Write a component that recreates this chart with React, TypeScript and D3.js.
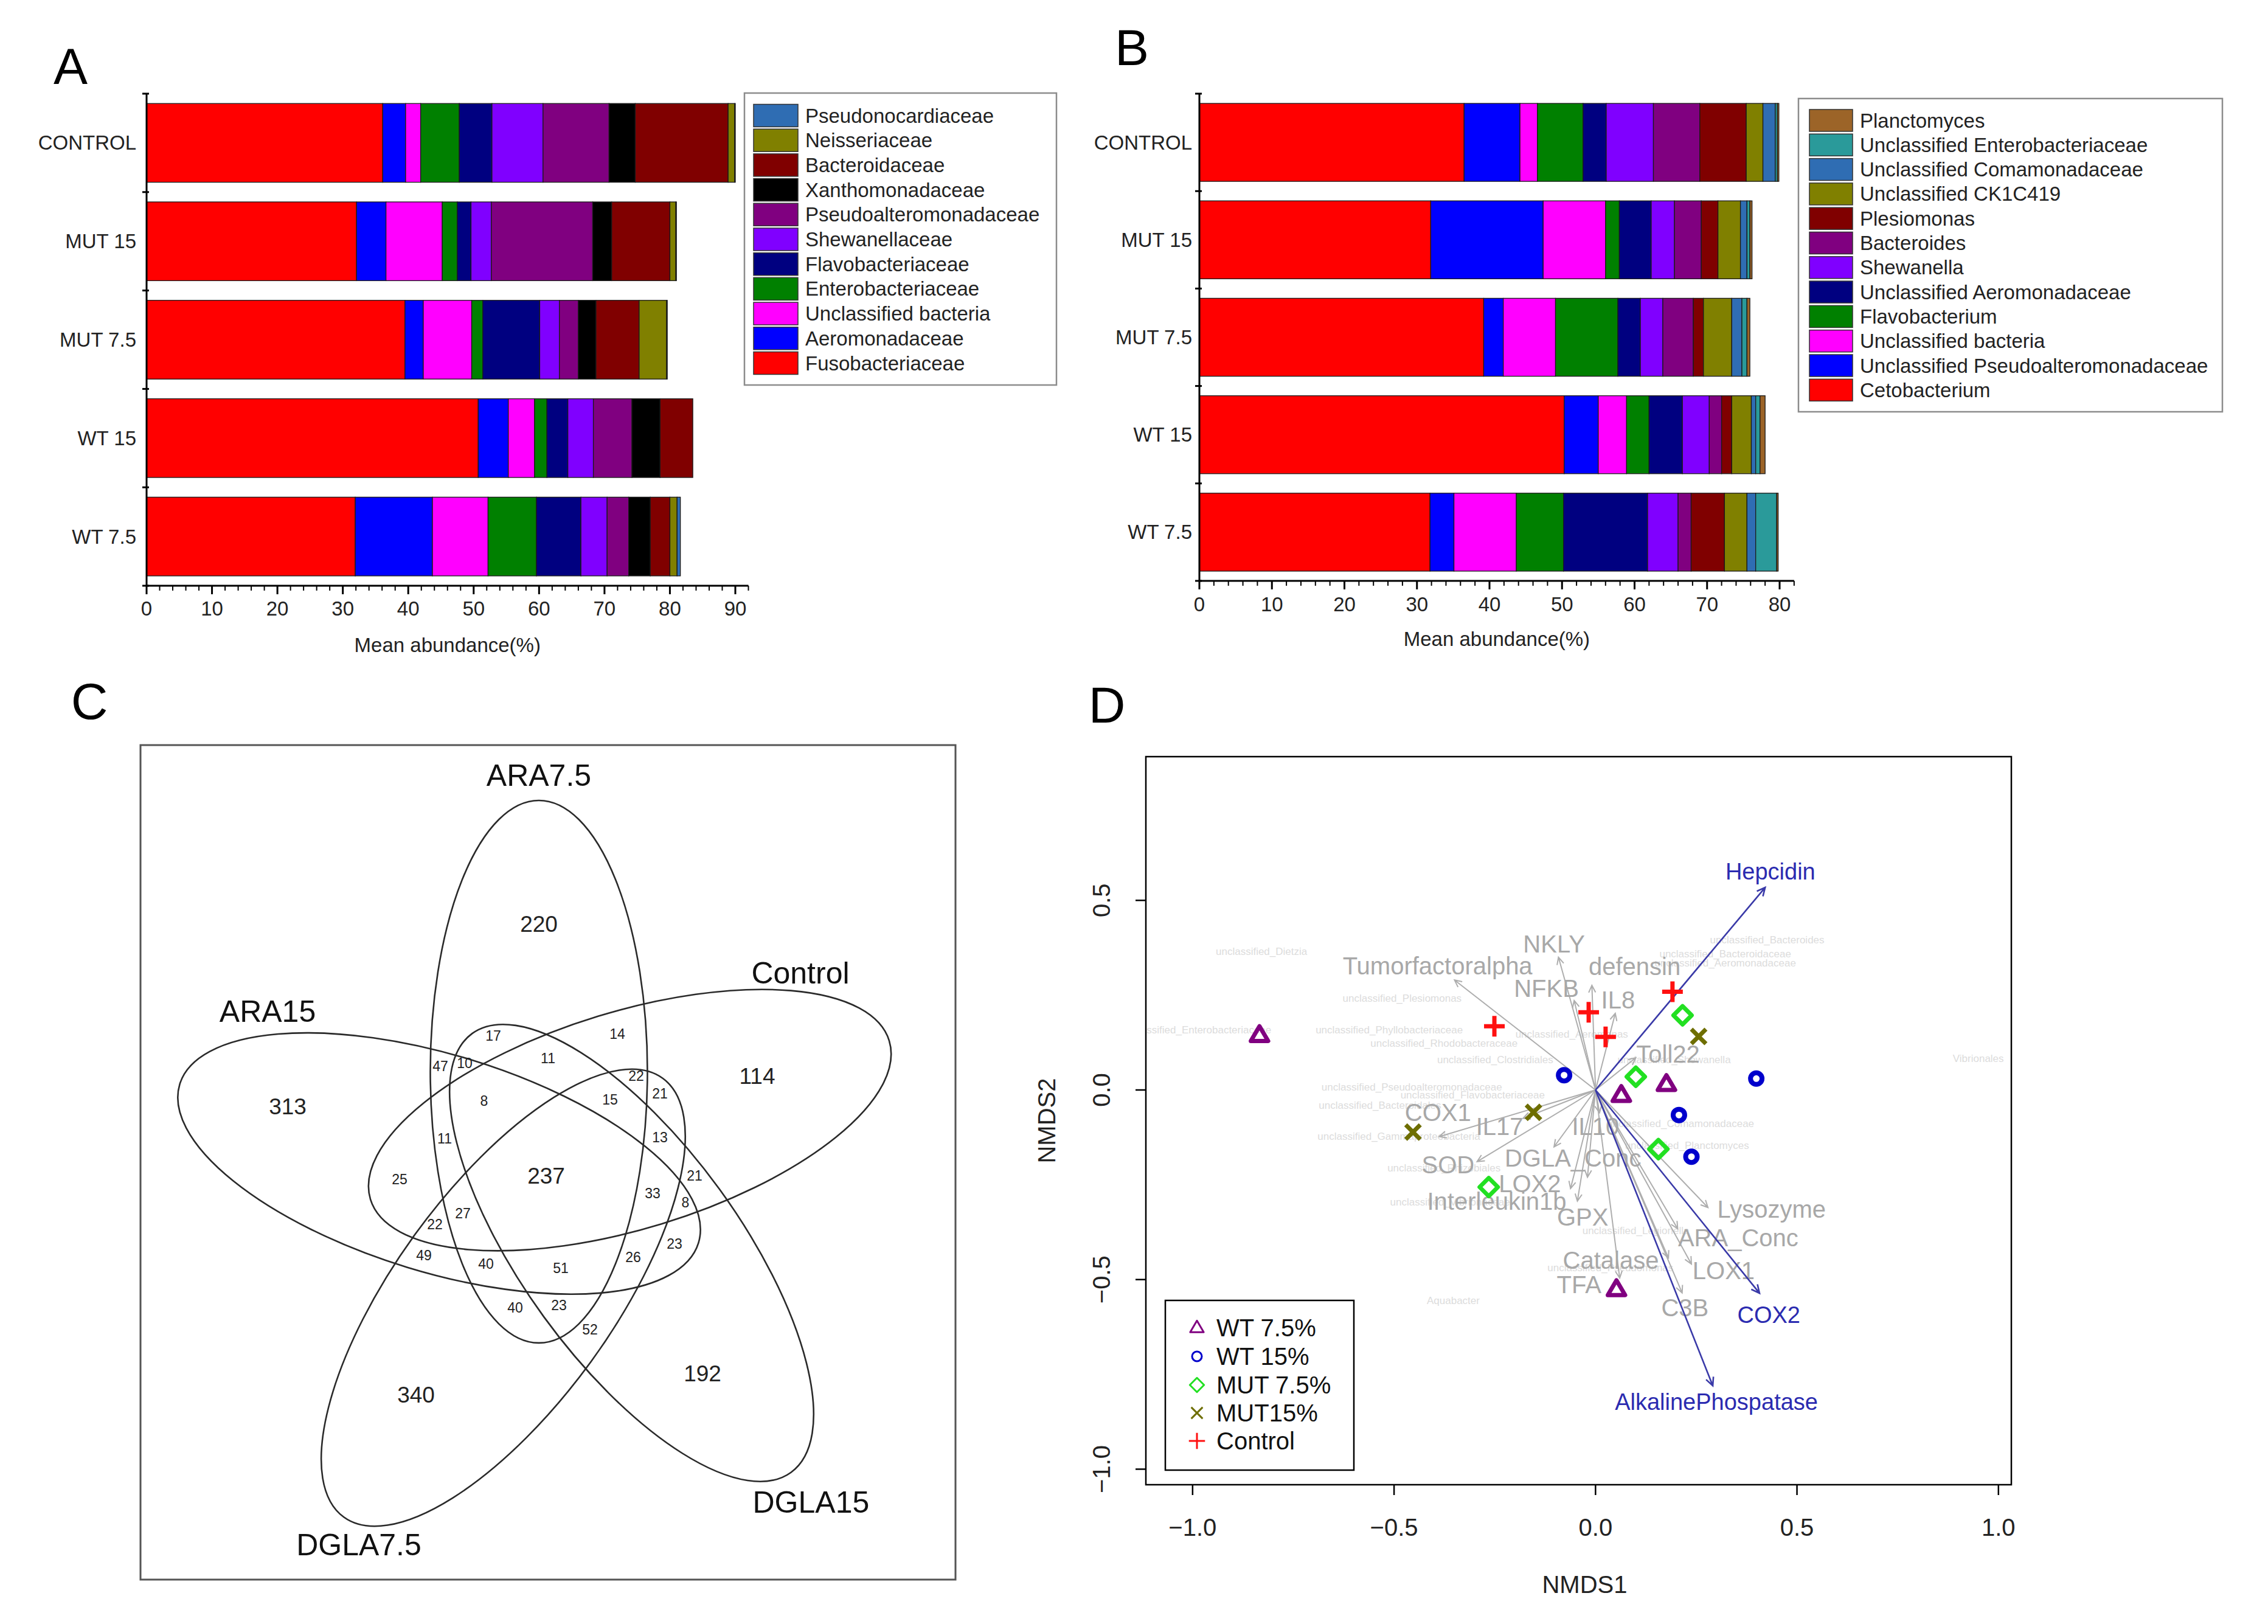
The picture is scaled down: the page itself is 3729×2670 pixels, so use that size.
import React, { useEffect } from 'react';
import * as d3 from 'd3';

const W = 3729;
const H = 2670;
const FONT = "'Liberation Sans', Arial, Helvetica, sans-serif";

// ---------------- Panel A data ----------------
const groupsA = ['CONTROL', 'MUT 15', 'MUT 7.5', 'WT 15', 'WT 7.5'];
const taxaA = ['Fusobacteriaceae', 'Aeromonadaceae', 'Unclassified bacteria', 'Enterobacteriaceae', 'Flavobacteriaceae', 'Shewanellaceae', 'Pseudoalteromonadaceae', 'Xanthomonadaceae', 'Bacteroidaceae', 'Neisseriaceae', 'Pseudonocardiaceae'];
const colorsA = ['#ff0000', '#0000ff', '#ff00ff', '#008000', '#000080', '#8000ff', '#800080', '#000000', '#800000', '#808000', '#2f6db3'];
const controlA = [36.1, 3.5, 2.3, 5.9, 5.0, 7.8, 10.1, 4.0, 14.2, 1.0, 0.1];
const mut15A = [32.1, 4.5, 8.6, 2.3, 2.1, 3.1, 15.5, 2.9, 8.9, 0.9, 0.1];
const mut75A = [39.5, 2.8, 7.4, 1.7, 8.7, 3.0, 2.9, 2.7, 6.6, 4.2, 0.1];
const wt15A = [50.7, 4.6, 4.0, 1.9, 3.2, 3.9, 5.9, 4.3, 5.0, 0.0, 0.0];
const wt75A = [31.9, 11.8, 8.5, 7.4, 6.8, 4.0, 3.3, 3.3, 3.0, 1.1, 0.5];
const ticksA = [0, 10, 20, 30, 40, 50, 60, 70, 80, 90];

// ---------------- Panel B data ----------------
const groupsB = ['CONTROL', 'MUT 15', 'MUT 7.5', 'WT 15', 'WT 7.5'];
const taxaB = ['Cetobacterium', 'Unclassified Pseudoalteromonadaceae', 'Unclassified bacteria', 'Flavobacterium', 'Unclassified Aeromonadaceae', 'Shewanella', 'Bacteroides', 'Plesiomonas', 'Unclassified CK1C419', 'Unclassified Comamonadaceae', 'Unclassified Enterobacteriaceae', 'Planctomyces'];
const colorsB = ['#ff0000', '#0000ff', '#ff00ff', '#008000', '#000080', '#8000ff', '#800080', '#800000', '#808000', '#2f6db3', '#2a9a9a', '#9c6428'];
const controlB = [36.5, 7.7, 2.4, 6.3, 3.2, 6.5, 6.4, 6.4, 2.3, 1.7, 0.3, 0.2];
const mut15B = [31.9, 15.5, 8.6, 1.9, 4.4, 3.2, 3.7, 2.3, 3.1, 0.9, 0.4, 0.3];
const mut75B = [39.2, 2.7, 7.2, 8.6, 3.1, 3.1, 4.2, 1.4, 3.9, 1.4, 0.7, 0.4];
const wt15B = [50.3, 4.7, 3.9, 3.1, 4.6, 3.7, 1.7, 1.4, 2.7, 0.6, 0.6, 0.7];
const wt75B = [31.8, 3.3, 8.6, 6.5, 11.6, 4.2, 1.8, 4.6, 3.1, 1.2, 2.9, 0.2];
const ticksB = [0, 10, 20, 30, 40, 50, 60, 70, 80];

// ---------------- Panel C data ----------------
const vennSets = ['ARA7.5', 'Control', 'ARA15', 'DGLA15', 'DGLA7.5'];
const vennCounts = [220, 114, 313, 192, 340, 237, 17, 14, 11, 47, 10, 8, 22, 21, 15, 13, 11, 25, 21, 33, 8, 27, 22, 23, 49, 40, 51, 26, 40, 23, 52];

// ---------------- Panel D data ----------------
const groupNamesD = ['WT 7.5%', 'WT 15%', 'MUT 7.5%', 'MUT15%', 'Control'];
const wt75X = [-0.834, 0.064, 0.176, 0.052];
const wt75Y = [0.144, -0.014, 0.015, -0.526];
const wt15X = [-0.078, 0.399, 0.207, 0.238];
const wt15Y = [0.039, 0.030, -0.066, -0.176];
const mut75X = [0.216, 0.100, 0.156, -0.265];
const mut75Y = [0.197, 0.035, -0.156, -0.256];
const mut15X = [0.256, -0.154, -0.453];
const mut15Y = [0.141, -0.059, -0.111];
const controlX = [0.191, -0.017, -0.251, 0.025];
const controlY = [0.259, 0.205, 0.168, 0.140];

const vecNames = ['Tumorfactoralpha', 'NKLY', 'NFKB', 'defensin', 'IL8', 'Toll22', 'COX1', 'IL17', 'SOD', 'DGLA_Conc', 'LOX2', 'Interleukin1b', 'GPX', 'IL10', 'Catalase', 'TFA', 'Lysozyme', 'ARA_Conc', 'LOX1', 'C3B'];
const vecX = [-0.350, -0.092, -0.053, -0.009, 0.049, 0.100, -0.388, -0.180, -0.294, -0.103, -0.062, -0.045, -0.020, 0.010, 0.181, 0.060, 0.279, 0.204, 0.238, 0.215];
const vecY = [0.290, 0.350, 0.236, 0.276, 0.202, 0.085, -0.123, -0.075, -0.189, -0.150, -0.260, -0.293, -0.230, -0.060, -0.443, -0.496, -0.310, -0.366, -0.459, -0.535];
const sigNames = ['Hepcidin', 'COX2', 'AlkalinePhospatase'];
const sigX = [0.421, 0.407, 0.291];
const sigY = [0.534, -0.536, -0.780];
const taxaNamesD = ['unclassified_Dietzia', 'unclassified_Enterobacteriaceae', 'unclassified_Plesiomonas', 'unclassified_Phyllobacteriaceae', 'unclassified_Rhodobacteraceae', 'unclassified_Clostridiales', 'unclassified_Pseudoalteromonadaceae', 'unclassified_Flavobacteriaceae', 'unclassified_Bacteroidales', 'unclassified_Gammaproteobacteria', 'unclassified_Rhizobiales', 'unclassified_Vibrionaceae', 'unclassified_Bacteroides', 'unclassified_Bacteroidaceae', 'unclassified_Aeromonadaceae', 'Vibrionales', 'unclassified_Shewanella', 'unclassified_Comamonadaceae', 'unclassified_Planctomyces', 'Aquabacter', 'unclassified_Legionella', 'unclassified_Pseudomonas', 'unclassified_Aeromonas'];
const taxaXD = [-0.829, -0.99, -0.480, -0.512, -0.376, -0.249, -0.456, -0.305, -0.535, -0.488, -0.376, -0.361, 0.426, 0.322, 0.322, 0.950, 0.195, 0.211, 0.227, -0.353, 0.100, 0.037, -0.059];
const taxaYD = [0.365, 0.158, 0.241, 0.158, 0.122, 0.080, 0.008, -0.014, -0.041, -0.123, -0.206, -0.296, 0.395, 0.358, 0.335, 0.083, 0.080, -0.089, -0.146, -0.555, -0.371, -0.469, 0.147];
const ticksDX = [-1.0, -0.5, 0.0, 0.5, 1.0];
const ticksDY = [-1.0, -0.5, 0.0, 0.5];

// ---------------- layout (positions only) ----------------
const vecLabelPos: [number, number][] = [[-0.392, 0.328], [-0.103, 0.385], [-0.122, 0.268], [0.097, 0.325], [0.056, 0.238], [0.180, 0.095], [-0.391, -0.060], [-0.238, -0.097], [-0.366, -0.197], [-0.056, -0.180], [-0.163, -0.247], [-0.245, -0.293], [-0.032, -0.336], [0.0, -0.097], [0.038, -0.449], [-0.041, -0.513], [0.437, -0.314], [0.354, -0.389], [0.318, -0.477], [0.222, -0.575]];
const sigLabelPos: [number, number][] = [[0.434, 0.576], [0.430, -0.594], [0.300, -0.823]];
const vennGeom: [number, number, number][] = [[0.4888, 0.4007, 90], [0.6004, 0.4601, -17], [0.3664, 0.5134, 17], [0.6026, 0.6231, 54], [0.4451, 0.6780, -54]];
const vennAxes = [0.3328, 0.1332];
const vennSetLabelPos: [number, number][] = [[0.4888, 0.0373], [0.8097, 0.2799], [0.1560, 0.3269], [0.8227, 0.9290], [0.2679, 0.9810]];
const vennCountPos: [number, number][] = [[886, 1519], [1245, 1769], [473, 1819], [1155, 2258], [684, 2293], [898, 1933], [811, 1703], [1015, 1700], [901, 1740], [724, 1753], [764, 1748], [796, 1810], [1046, 1769], [1085, 1798], [1003, 1808], [1085, 1870], [731, 1872], [657, 1939], [1142, 1933], [1073, 1962], [1127, 1977], [761, 1995], [715, 2013], [1109, 2045], [697, 2064], [799, 2078], [922, 2085], [1041, 2067], [847, 2150], [919, 2146], [970, 2186]];

type BarProps = {
  groups: string[]; taxa: string[]; colors: string[]; values: number[][]; ticks: number[];
  x0: number; xMaxPx: number; domainMax: number; axisMax: number; yTop: number; yBottom: number;
  catLabelX: number; tickLabelY: number; titleY: number;
  leg: { x0: number; y0: number; x1: number; y1: number; swX: number; swW: number; swH: number; firstY: number; step: number; textX: number };
};

function BarPanel(p: BarProps) {
  const x = d3.scaleLinear().domain([0, p.domainMax]).range([p.x0, p.xMaxPx]);
  const y = d3.scaleBand<string>().domain(p.groups).range([p.yTop, p.yBottom]).paddingInner(0.2).paddingOuter(0.1);
  const rows = p.groups.map((g, i) => {
    const r: Record<string, any> = { group: g };
    p.taxa.forEach((t, j) => { r[t] = p.values[i][j]; });
    return r;
  });
  const series = d3.stack<Record<string, any>>().keys(p.taxa)(rows);
  const step = y.step();
  const boundaries = p.groups.map((g) => (y(g) as number) - step * 0.1).concat([p.yBottom]);
  const minor = d3.range(0, p.axisMax + 0.001, 2);
  const axisY = p.yBottom;
  const legendTaxa = p.taxa.map((t, i) => ({ t, c: p.colors[i] })).reverse();
  return (
    <g>
      {series.map((s, si) => (
        <g key={si} fill={p.colors[si]}>
          {s.map((d, gi) => {
            const w = x(d[1]) - x(d[0]);
            if (w <= 0.01) return null;
            return <rect key={gi} x={x(d[0])} y={y(p.groups[gi]) as number} width={w} height={y.bandwidth()} stroke="#1a1a1a" strokeWidth={1.3} />;
          })}
        </g>
      ))}
      <line x1={p.x0} x2={p.x0} y1={p.yTop} y2={axisY} stroke="#000" strokeWidth={3} />
      {boundaries.map((b, i) => (
        <line key={i} x1={p.x0 - 7} x2={p.x0 + 4} y1={b} y2={b} stroke="#000" strokeWidth={3} />
      ))}
      {p.groups.map((g) => (
        <text key={g} x={p.catLabelX} y={(y(g) as number) + y.bandwidth() / 2} textAnchor="end" dominantBaseline="central" fontSize={33} fill="#222">{g}</text>
      ))}
      <line x1={p.x0} x2={x(p.axisMax)} y1={axisY} y2={axisY} stroke="#000" strokeWidth={3} />
      {minor.map((m) => (
        <line key={m} x1={x(m)} x2={x(m)} y1={axisY} y2={axisY + (m % 10 === 0 ? 14 : 8)} stroke="#000" strokeWidth={m % 10 === 0 ? 3 : 2} />
      ))}
      {p.ticks.map((t) => (
        <text key={t} x={x(t)} y={p.tickLabelY} textAnchor="middle" dominantBaseline="central" fontSize={33} fill="#222">{t}</text>
      ))}
      <text x={(x(0) + x(p.axisMax)) / 2} y={p.titleY} textAnchor="middle" dominantBaseline="central" fontSize={33} fill="#222">Mean abundance(%)</text>
      <rect x={p.leg.x0} y={p.leg.y0} width={p.leg.x1 - p.leg.x0} height={p.leg.y1 - p.leg.y0} fill="#fff" stroke="#8c8c8c" strokeWidth={2.5} />
      {legendTaxa.map((l, i) => {
        const cy = p.leg.firstY + i * p.leg.step;
        return (
          <g key={l.t}>
            <rect x={p.leg.swX} y={cy - p.leg.swH / 2} width={p.leg.swW} height={p.leg.swH} fill={l.c} stroke="#333" strokeWidth={1.5} />
            <text x={p.leg.textX} y={cy} dominantBaseline="central" fontSize={33} fill="#222">{l.t}</text>
          </g>
        );
      })}
    </g>
  );
}

function VennPanel() {
  const bx0 = 231, by0 = 1225, bx1 = 1571, by1 = 2597;
  const s = bx1 - bx0;
  const vx = d3.scaleLinear().domain([0, 1]).range([bx0, bx1]);
  const vy = d3.scaleLinear().domain([0, 1]).range([by0, by0 + s]);
  return (
    <g>
      <rect x={bx0} y={by0} width={bx1 - bx0} height={by1 - by0} fill="#fff" stroke="#555" strokeWidth={3} />
      {vennGeom.map(([cx, cy, rot], i) => (
        <ellipse key={i} cx={0} cy={0} rx={vennAxes[0] * s} ry={vennAxes[1] * s} fill="none" stroke="#2a2a2a" strokeWidth={2.6}
          transform={`translate(${vx(cx)},${vy(cy)}) rotate(${rot})`} />
      ))}
      {vennSets.map((n, i) => (
        <text key={n} x={vx(vennSetLabelPos[i][0])} y={vy(vennSetLabelPos[i][1])} textAnchor="middle" dominantBaseline="central" fontSize={50} fill="#111">{n}</text>
      ))}
      {vennCounts.map((c, i) => (
        <text key={i} x={vennCountPos[i][0]} y={vennCountPos[i][1]} textAnchor="middle" dominantBaseline="central" fontSize={i < 6 ? 37 : 23} fill="#222">{c}</text>
      ))}
    </g>
  );
}

function arrowPath(x0: number, y0: number, x1: number, y1: number, len: number) {
  const ang = Math.atan2(y1 - y0, x1 - x0);
  const a1 = ang + Math.PI - Math.PI / 7;
  const a2 = ang + Math.PI + Math.PI / 7;
  return `M${x0},${y0}L${x1},${y1}M${x1 + len * Math.cos(a1)},${y1 + len * Math.sin(a1)}L${x1},${y1}L${x1 + len * Math.cos(a2)},${y1 + len * Math.sin(a2)}`;
}

function Marker({ kind, x, y, big }: { kind: number; x: number; y: number; big: boolean }) {
  const k = big ? 1 : 0.78;
  if (kind === 0) {
    const r = 15 * k;
    const pts = `${x},${y - r} ${x + r * 0.95},${y + r * 0.62} ${x - r * 0.95},${y + r * 0.62}`;
    return <polygon points={pts} fill="none" stroke="#800080" strokeWidth={big ? 7 : 3} strokeLinejoin="round" />;
  }
  if (kind === 1) {
    return <circle cx={x} cy={y} r={big ? 9.5 : 8} fill="none" stroke="#0000cc" strokeWidth={big ? 8 : 3} />;
  }
  if (kind === 2) {
    const r = 15 * k;
    return <polygon points={`${x},${y - r} ${x + r},${y} ${x},${y + r} ${x - r},${y}`} fill="none" stroke="#22e022" strokeWidth={big ? 7 : 3} strokeLinejoin="round" />;
  }
  if (kind === 3) {
    const r = 12 * k;
    return <path d={`M${x - r},${y - r}L${x + r},${y + r}M${x - r},${y + r}L${x + r},${y - r}`} stroke="#6e6e00" strokeWidth={big ? 7 : 3} />;
  }
  const r = 17 * k;
  return <path d={`M${x - r},${y}L${x + r},${y}M${x},${y - r}L${x},${y + r}`} stroke="#ff1010" strokeWidth={big ? 7 : 3} />;
}

function fmtTick(t: number) {
  return t === 0 ? '0.0' : d3.format('.1f')(t).replace('-', '\u2212');
}

function NmdsPanel() {
  const x0 = 1884, x1 = 3307, y0 = 1244, y1 = 2441;
  const x = d3.scaleLinear().domain([-1.116, 1.032]).range([x0, x1]);
  const y = d3.scaleLinear().domain([-1.041, 0.879]).range([y1, y0]);
  const groupsX = [wt75X, wt15X, mut75X, mut15X, controlX];
  const groupsY = [wt75Y, wt15Y, mut75Y, mut15Y, controlY];
  const ox = x(0), oy = y(0);
  const legY = [2183, 2230, 2277, 2323, 2369];
  return (
    <g>
      <defs>
        <clipPath id="nmdsClip"><rect x={x0} y={y0} width={x1 - x0} height={y1 - y0} /></clipPath>
      </defs>
      <g clipPath="url(#nmdsClip)">
        {taxaNamesD.map((n, i) => (
          <text key={n + i} x={x(taxaXD[i])} y={y(taxaYD[i])} textAnchor="middle" dominantBaseline="central" fontSize={17} fill="#dcdcdc">{n}</text>
        ))}
      </g>
      {vecNames.map((n, i) => (
        <path key={n} d={arrowPath(ox, oy, x(vecX[i]), y(vecY[i]), 13)} fill="none" stroke="#aeaeae" strokeWidth={2} />
      ))}
      {vecNames.map((n, i) => (
        <text key={n} x={x(vecLabelPos[i][0])} y={y(vecLabelPos[i][1])} textAnchor="middle" dominantBaseline="central" fontSize={40} fill="#a8a8a8">{n}</text>
      ))}
      {sigNames.map((n, i) => (
        <path key={n} d={arrowPath(ox, oy, x(sigX[i]), y(sigY[i]), 15)} fill="none" stroke="#3a3aa8" strokeWidth={2.6} />
      ))}
      {sigNames.map((n, i) => (
        <text key={n} x={x(sigLabelPos[i][0])} y={y(sigLabelPos[i][1])} textAnchor="middle" dominantBaseline="central" fontSize={38} fill="#2b2bb0">{n}</text>
      ))}
      {groupsX.map((gx, gi) => gx.map((v, j) => (
        <Marker key={gi + '-' + j} kind={gi} x={x(v)} y={y(groupsY[gi][j])} big={true} />
      )))}
      <rect x={x0} y={y0} width={x1 - x0} height={y1 - y0} fill="none" stroke="#000" strokeWidth={2.5} />
      {ticksDX.map((t) => (
        <g key={t}>
          <line x1={x(t)} x2={x(t)} y1={y1} y2={y1 + 17} stroke="#000" strokeWidth={2.5} />
          <text x={x(t)} y={2511} textAnchor="middle" dominantBaseline="central" fontSize={40} fill="#222">{fmtTick(t)}</text>
        </g>
      ))}
      {ticksDY.map((t) => (
        <g key={t}>
          <line x1={x0} x2={x0 - 17} y1={y(t)} y2={y(t)} stroke="#000" strokeWidth={2.5} />
          <text transform={`translate(1811,${y(t)}) rotate(-90)`} textAnchor="middle" dominantBaseline="central" fontSize={40} fill="#222">{fmtTick(t)}</text>
        </g>
      ))}
      <text x={(x0 + x1) / 2 + 10} y={2605} textAnchor="middle" dominantBaseline="central" fontSize={40} fill="#222">NMDS1</text>
      <text transform={`translate(1721,${(y0 + y1) / 2}) rotate(-90)`} textAnchor="middle" dominantBaseline="central" fontSize={40} fill="#222">NMDS2</text>
      <rect x={1916} y={2138} width={310} height={279} fill="#fff" stroke="#000" strokeWidth={2.5} />
      {groupNamesD.map((n, i) => (
        <g key={n}>
          <Marker kind={i} x={1968} y={legY[i]} big={false} />
          <text x={2000} y={legY[i]} dominantBaseline="central" fontSize={40} fill="#111">{n}</text>
        </g>
      ))}
    </g>
  );
}

export default function App() {
  useEffect(() => {
    document.body.style.margin = '0';
  }, []);
  return (
    <svg width={W} height={H} viewBox={`0 0 ${W} ${H}`} style={{ display: 'block', position: 'absolute', left: 0, top: 0 }} fontFamily={FONT}>
      <rect x={0} y={0} width={W} height={H} fill="#fff" />
      <BarPanel groups={groupsA} taxa={taxaA} colors={colorsA} values={[controlA, mut15A, mut75A, wt15A, wt75A]} ticks={ticksA}
        x0={241} xMaxPx={1209} domainMax={90} axisMax={92} yTop={154} yBottom={963} catLabelX={224} tickLabelY={1000} titleY={1060}
        leg={{ x0: 1224, y0: 153, x1: 1737, y1: 633, swX: 1239, swW: 73, swH: 37, firstY: 190, step: 40.7, textX: 1324 }} />
      <BarPanel groups={groupsB} taxa={taxaB} colors={colorsB} values={[controlB, mut15B, mut75B, wt15B, wt75B]} ticks={ticksB}
        x0={1972} xMaxPx={2926} domainMax={80} axisMax={82} yTop={154} yBottom={955} catLabelX={1960} tickLabelY={993} titleY={1050}
        leg={{ x0: 2957, y0: 162, x1: 3654, y1: 677, swX: 2975, swW: 71, swH: 36, firstY: 198, step: 40.3, textX: 3058 }} />
      <VennPanel />
      <NmdsPanel />
      <text x={116} y={138} textAnchor="middle" fontSize={84} fill="#000">A</text>
      <text x={1861} y={107} textAnchor="middle" fontSize={84} fill="#000">B</text>
      <text x={147} y={1182} textAnchor="middle" fontSize={84} fill="#000">C</text>
      <text x={1820} y={1188} textAnchor="middle" fontSize={84} fill="#000">D</text>
    </svg>
  );
}
